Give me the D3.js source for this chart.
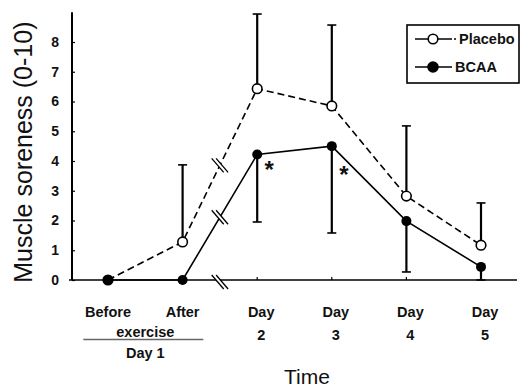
<!DOCTYPE html>
<html>
<head>
<meta charset="utf-8">
<script src="https://cdn.jsdelivr.net/npm/d3@7"></script>
<style>
  html, body { margin: 0; padding: 0; background: #fff; }
  svg { display: block; font-family: "Liberation Sans", Arial, sans-serif; }
</style>
</head>
<body>
<svg id="chart" width="522" height="390"></svg>
<script>
// ---- data ----
const categories = ["Before", "After", "Day 2", "Day 3", "Day 4", "Day 5"];
const tickTop = ["Before", "After", "Day", "Day", "Day", "Day"];
const tickBottom = ["", "", "2", "3", "4", "5"];
const placeboMean = [0, 1.28, 6.43, 5.85, 2.82, 1.17];
const placeboUpper = [null, 3.87, 8.94, 8.57, 5.18, 2.59];
const bcaaMean = [0, 0, 4.22, 4.5, 1.98, 0.44];
const bcaaLower = [null, null, 1.95, 1.58, 0.27, 0];
const yTicks = [0, 1, 2, 3, 4, 5, 6, 7, 8];
const significant = [{ cat: "Day 2", y: 3.75 }, { cat: "Day 3", y: 3.6 }];
const seriesNames = ["Placebo", "BCAA"];

// ---- layout ----
const svg = d3.select("#chart");
const x = d3.scalePoint().domain(categories).range([108, 481]);
const y = d3.scaleLinear().domain([0, 9]).range([280, 12.25]);
const x0 = 72, xEnd = 517;

// axes
const yAxis = d3.axisLeft(y).tickValues(yTicks).tickSize(-3).tickPadding(13).tickFormat(d3.format("d"));
const gy = svg.append("g").attr("transform", `translate(${x0},0)`).call(yAxis);
gy.select(".domain").attr("d", `M0,${y(0)}V${y(9)}`).attr("stroke", "#000").attr("stroke-width", 2);
gy.selectAll(".tick line").attr("stroke", "#000").attr("stroke-width", 1.2);
gy.selectAll(".tick text").attr("font-size", 14).attr("font-weight", "bold").attr("fill", "#111");

// x axis line
svg.append("line").attr("x1", x0 - 3).attr("x2", xEnd).attr("y1", y(0)).attr("y2", y(0))
  .attr("stroke", "#000").attr("stroke-width", 1.6);
svg.selectAll(".xt").data(categories).enter().append("line")
  .attr("x1", d => x(d)).attr("x2", d => x(d)).attr("y1", y(0)).attr("y2", y(0) - 3)
  .attr("stroke", "#000").attr("stroke-width", 1.2);

// x tick labels
const xl = svg.append("g").attr("font-size", 14.5).attr("font-weight", "bold").attr("fill", "#111").attr("text-anchor", "middle");
categories.forEach((c, i) => {
  const off = i < 2 ? 0 : 4;
  xl.append("text").attr("x", x(c) + off).attr("y", 317).text(tickTop[i]);
  if (tickBottom[i]) xl.append("text").attr("x", x(c) + off).attr("y", 340).text(tickBottom[i]);
});
const day1x = (x("Before") + x("After")) / 2;
xl.append("text").attr("x", day1x).attr("y", 337).text("exercise");
svg.append("line").attr("x1", day1x - 62).attr("x2", day1x + 58).attr("y1", 339.5).attr("y2", 339.5)
  .attr("stroke", "#666").attr("stroke-width", 1.5);
xl.append("text").attr("x", day1x).attr("y", 358).text("Day 1");

// axis titles
svg.append("text").attr("x", 307).attr("y", 384).attr("text-anchor", "middle")
  .attr("font-size", 21).attr("fill", "#111").text("Time");
svg.append("text").attr("transform", `translate(32,${(y(0) + y(9)) / 2 + 6}) rotate(-90)`)
  .attr("text-anchor", "middle").attr("font-size", 25).attr("fill", "#111").text("Muscle soreness (0-10)");

// error bars
function errBar(cat, from, to) {
  svg.append("line").attr("x1", x(cat)).attr("x2", x(cat)).attr("y1", y(from)).attr("y2", y(to))
    .attr("stroke", "#000").attr("stroke-width", 2.2);
  svg.append("line").attr("x1", x(cat) - 4.5).attr("x2", x(cat) + 4.5).attr("y1", y(to)).attr("y2", y(to))
    .attr("stroke", "#000").attr("stroke-width", 1.6);
}
categories.forEach((c, i) => {
  if (placeboUpper[i] != null) errBar(c, placeboMean[i], placeboUpper[i]);
  if (bcaaLower[i] != null) errBar(c, bcaaMean[i], bcaaLower[i]);
});

// lines
const line = d3.line().x((d, i) => x(categories[i])).y(d => y(d));
svg.append("path").attr("d", line(placeboMean)).attr("fill", "none").attr("stroke", "#000")
  .attr("stroke-width", 1.6).attr("stroke-dasharray", "7,4");
svg.append("path").attr("d", line(bcaaMean)).attr("fill", "none").attr("stroke", "#000")
  .attr("stroke-width", 1.6);

// break marks between After and Day 2 (strokes from upper-left to lower-right)
const bx = (x("After") + x("Day 2")) / 2;
function brk(yv) {
  const g = svg.append("g");
  g.append("path").attr("d", `M${bx - 5},${yv - 6}L${bx + 5},${yv + 6}Z`).attr("stroke", "#fff").attr("stroke-width", 3.5);
  [-2.2, 2.2].forEach(o => {
    g.append("line").attr("x1", bx - 6 + o).attr("y1", yv - 7).attr("x2", bx + 6 + o).attr("y2", yv + 7)
      .attr("stroke", "#000").attr("stroke-width", 1.3);
  });
}
brk(y((placeboMean[1] + placeboMean[2]) / 2));
brk(y((bcaaMean[1] + bcaaMean[2]) / 2));
brk(y(0) + 2);

// markers
svg.selectAll(".pm").data(placeboMean).enter().append("circle")
  .attr("cx", (d, i) => x(categories[i])).attr("cy", d => y(d)).attr("r", 4.8)
  .attr("fill", "#fff").attr("stroke", "#000").attr("stroke-width", 1.6);
svg.selectAll(".bm").data(bcaaMean).enter().append("circle")
  .attr("cx", (d, i) => x(categories[i])).attr("cy", d => y(d)).attr("r", 5)
  .attr("fill", "#000");

// significance asterisks
svg.selectAll(".ast").data(significant).enter().append("text")
  .attr("x", d => x(d.cat) + 12).attr("y", d => y(d.y) + 10).attr("text-anchor", "middle")
  .attr("font-size", 24).attr("font-weight", "bold").attr("fill", "#111").text("*");

// legend
const lg = svg.append("g");
lg.append("rect").attr("x", 407).attr("y", 25).attr("width", 112).attr("height", 58)
  .attr("fill", "#fff").attr("stroke", "#000").attr("stroke-width", 1.6);
const rows = [39, 67];
seriesNames.forEach((n, i) => {
  lg.append("line").attr("x1", 415).attr("x2", 452).attr("y1", rows[i]).attr("y2", rows[i])
    .attr("stroke", "#000").attr("stroke-width", 1.6);
  lg.append("circle").attr("cx", 433).attr("cy", rows[i]).attr("r", i === 0 ? 4.8 : 5)
    .attr("fill", i === 0 ? "#fff" : "#000").attr("stroke", "#000").attr("stroke-width", 1.6);
  if (i === 0) lg.append("circle").attr("cx", 455).attr("cy", rows[i]).attr("r", 1).attr("fill", "#000");
  lg.append("text").attr("x", i === 0 ? 459 : 455).attr("y", rows[i] + 5).attr("font-size", 14.5)
    .attr("font-weight", "bold").attr("fill", "#111").text(n);
});
</script>
</body>
</html>
